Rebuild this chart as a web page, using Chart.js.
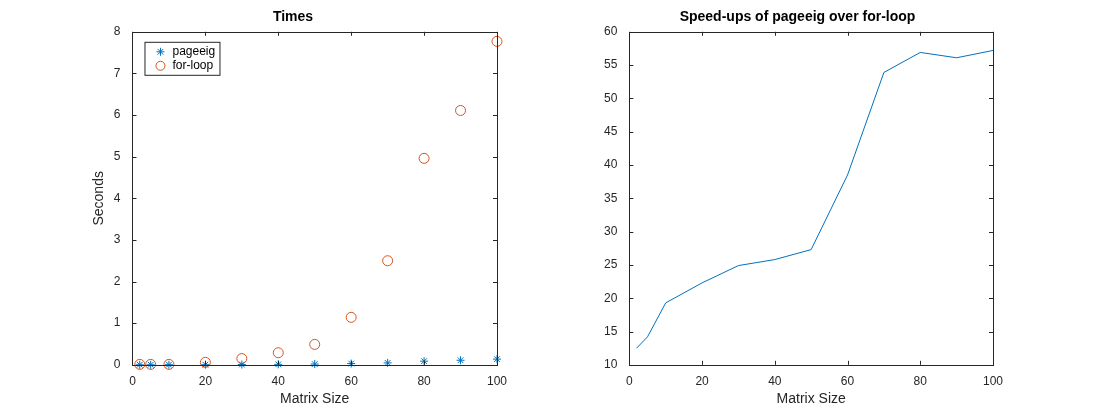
<!DOCTYPE html>
<html><head><meta charset="utf-8">
<script src="https://cdn.jsdelivr.net/npm/chart.js@4/dist/chart.umd.min.js"></script>
<style>body{margin:0;background:#fff;width:1098px;height:412px;position:relative;overflow:hidden}
.c{position:absolute;top:0;height:412px}</style></head><body>
<div class="c" style="left:87px;width:422px"><canvas id="a"></canvas></div>
<div class="c" style="left:600px;width:405px"><canvas id="b"></canvas></div>
<script>
const sizes=[2,5,10,20,30,40,50,60,70,80,90,100];
const pageeigTimes=[0.001,0.001,0.002,0.003,0.006,0.011,0.018,0.03,0.046,0.087,0.109,0.136];
const forloopTimes=[0.01,0.01,0.01,0.06,0.15,0.29,0.49,1.14,2.5,4.96,6.11,7.77];
const speedups=[12.5,14.2,19.3,22.3,24.9,25.8,27.3,38.5,53.9,56.9,56.1,57.2];
const BLUE='#0072BD',ORANGE='#D95319',F='Liberation Sans, Arial, sans-serif';
Chart.defaults.font.family=F;Chart.defaults.color='#262626';Chart.defaults.animation=false;
const boxPlugin={id:'box',afterDraw(ch){const c=ch.ctx,a=ch.chartArea;c.save();c.strokeStyle='#262626';c.lineWidth=1;
c.strokeRect(Math.round(a.left)+.5,Math.round(a.top)+.5,Math.round(a.width),Math.round(a.height));
const xs=ch.scales.x,ys=ch.scales.y;c.beginPath();
xs.ticks.forEach(t=>{const x=Math.round(xs.getPixelForValue(t.value))+.5;c.moveTo(x,a.bottom);c.lineTo(x,a.bottom-4);c.moveTo(x,a.top);c.lineTo(x,a.top+4);});
ys.ticks.forEach(t=>{const y=Math.round(ys.getPixelForValue(t.value))+.5;c.moveTo(a.left,y);c.lineTo(a.left+4,y);c.moveTo(a.right,y);c.lineTo(a.right-4,y);});
c.stroke();
if(ch.canvas.id==='a'){const x0=a.left+12,y0=a.top+10;c.fillStyle='#fff';c.fillRect(x0,y0,75,33);c.strokeRect(x0+.5,y0+.5,75,33);
c.font='12px '+F;c.fillStyle='#000';c.textBaseline='middle';
c.fillText('pageeig',x0+28,y0+10);c.fillText('for-loop',x0+28,y0+24);
c.strokeStyle=BLUE;const sx=x0+16,sy=y0+10;c.beginPath();for(let k=0;k<4;k++){const an=k*Math.PI/4;c.moveTo(sx-4*Math.cos(an),sy-4*Math.sin(an));c.lineTo(sx+4*Math.cos(an),sy+4*Math.sin(an));}c.stroke();
c.strokeStyle=ORANGE;c.beginPath();c.arc(sx,y0+24,4.5,0,2*Math.PI);c.stroke();}
c.restore();}};
function axes(xmin,xmax,ymin,ymax,step,title,ylab){
return {responsive:true,maintainAspectRatio:false,layout:{padding:{top:4,right:10,bottom:0}},
plugins:{legend:{display:false},title:{display:true,text:title,font:{size:14,weight:'bold'},color:'#000',padding:{top:5,bottom:6}},tooltip:{enabled:false}},
scales:{x:{type:'linear',min:xmin,max:xmax,ticks:{stepSize:20,font:{size:12},padding:2,maxRotation:0},grid:{display:false},border:{display:false},
title:{display:true,text:'Matrix Size',font:{size:14},padding:{top:0}}},
y:{min:ymin,max:ymax,ticks:{stepSize:step,font:{size:12},padding:4},grid:{display:false},border:{display:false},
title:{display:!!ylab,text:ylab||'',font:{size:14},padding:{bottom:2}}}}};}
new Chart(document.getElementById('a'),{type:'scatter',data:{datasets:[
{label:'pageeig',data:sizes.map((s,i)=>({x:s,y:pageeigTimes[i]})),pointStyle:'star',radius:4,borderColor:BLUE,backgroundColor:BLUE,borderWidth:1,clip:false},
{label:'for-loop',data:sizes.map((s,i)=>({x:s,y:forloopTimes[i]})),pointStyle:'circle',radius:5,borderColor:ORANGE,backgroundColor:'rgba(0,0,0,0)',borderWidth:1,clip:false}]},
options:axes(0,100,0,8,1,'Times','Seconds'),plugins:[boxPlugin]});
new Chart(document.getElementById('b'),{type:'line',data:{datasets:[
{data:sizes.map((s,i)=>({x:s,y:speedups[i]})),borderColor:BLUE,borderWidth:1,pointRadius:0,tension:0}]},
options:axes(0,100,10,60,5,'Speed-ups of pageeig over for-loop',''),plugins:[boxPlugin]});
</script></body></html>
